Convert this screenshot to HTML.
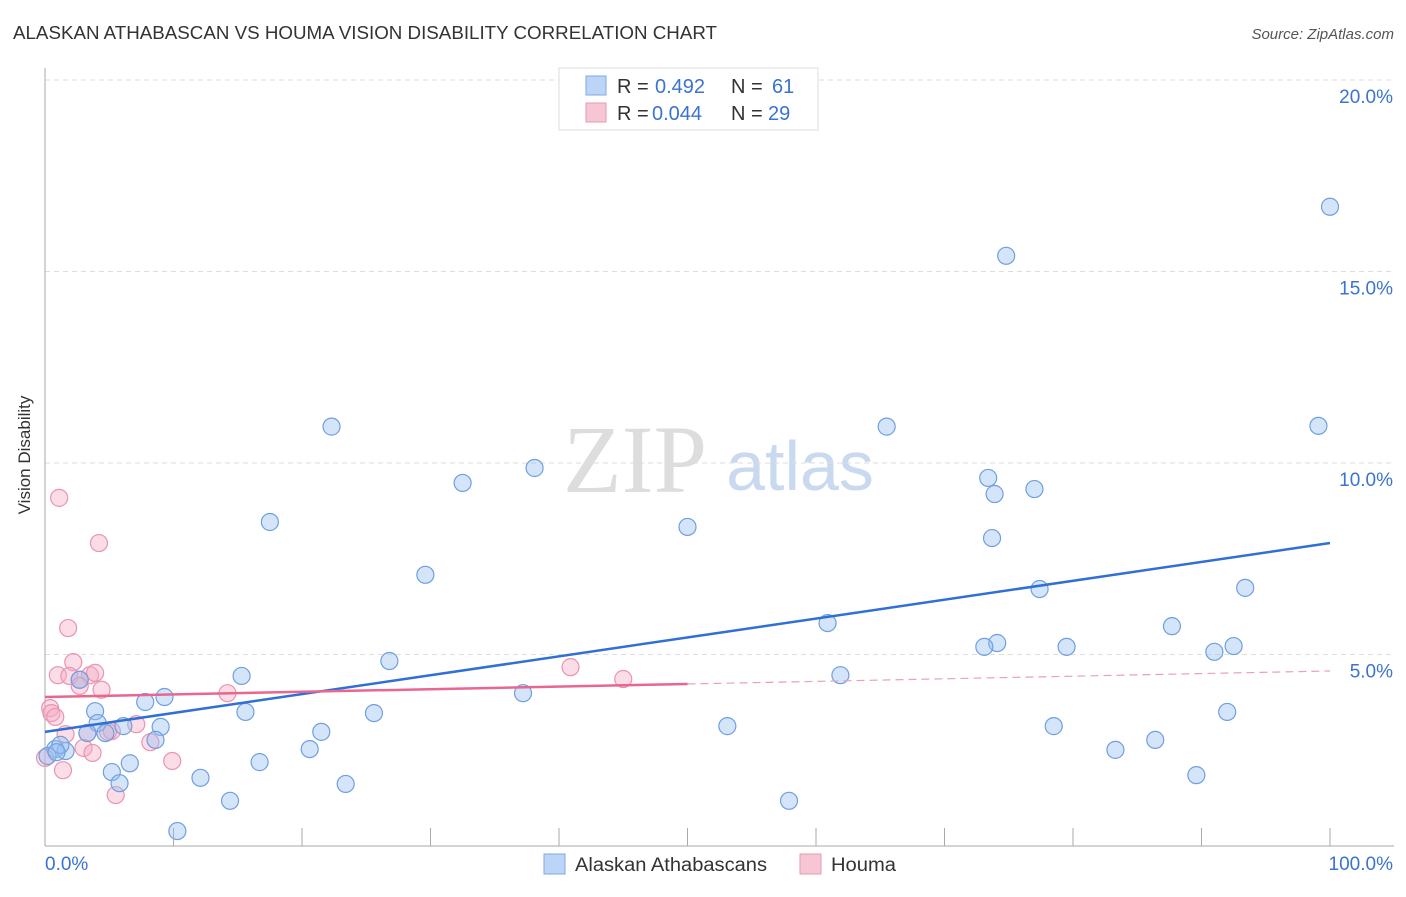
<!DOCTYPE html>
<html><head><meta charset="utf-8"><style>
body{margin:0;background:#fff;font-family:"Liberation Sans",sans-serif}
</style></head><body>
<svg id="chart" width="1406" height="892" xmlns="http://www.w3.org/2000/svg" font-family="Liberation Sans, sans-serif">
<text x="13" y="39" font-size="18" fill="#333" textLength="704" lengthAdjust="spacingAndGlyphs">ALASKAN ATHABASCAN VS HOUMA VISION DISABILITY CORRELATION CHART</text>
<text x="1394" y="39" font-size="15" fill="#555" font-style="italic" text-anchor="end">Source: ZipAtlas.com</text>
<text x="30" y="455" font-size="17" fill="#333" transform="rotate(-90 30 455)" text-anchor="middle">Vision Disability</text>
<text x="635" y="492" font-size="96" fill="#ddd" font-family="Liberation Serif, serif" text-anchor="middle">ZIP</text>
<text x="800" y="490" font-size="70" fill="#c9d9f0" text-anchor="middle">atlas</text>
<g id="grid"></g><g id="axes"></g><g id="pts"></g><g id="lines"></g>
<g>
<rect x="559" y="68" width="259" height="62" fill="#fff" stroke="#ddd"/>
<rect x="586" y="76" width="20" height="19" fill="#bcd4f5" stroke="#7fa8e6"/>
<text x="617" y="93" font-size="20" fill="#333">R = </text><text x="655" y="93" font-size="20" fill="#3a73d0">0.492</text>
<text x="731" y="93" font-size="20" fill="#333">N = </text><text x="772" y="93" font-size="20" fill="#3a73d0">61</text>
<rect x="586" y="103" width="20" height="19" fill="#f7c6d4" stroke="#e89ab2"/>
<text x="617" y="120" font-size="20" fill="#333">R = </text><text x="652" y="120" font-size="20" fill="#3a73d0">0.044</text>
<text x="731" y="120" font-size="20" fill="#333">N = </text><text x="768" y="120" font-size="20" fill="#3a73d0">29</text>
</g>
<g>
<rect x="544" y="854" width="21" height="20" fill="#bcd4f5" stroke="#7fa8e6"/>
<text x="575" y="871" font-size="19" fill="#333" textLength="192" lengthAdjust="spacingAndGlyphs">Alaskan Athabascans</text>
<rect x="800" y="854" width="21" height="20" fill="#f7c6d4" stroke="#e89ab2"/>
<text x="831" y="871" font-size="19" fill="#333" textLength="65" lengthAdjust="spacingAndGlyphs">Houma</text>
</g>
</svg>
<script>
const xTickVals=[0,10,20,30,40,50,60,70,80,90,100];
const yTickVals=[5,10,15,20];
const yTickLabels=["5.0%","10.0%","15.0%","20.0%"];
const blueX=[100,74.8,22.3,65.5,99.1,38.1,32.5,73.4,77,73.9,17.5,50,73.7,29.6,93.4,77.4,60.9,87.7,74.1,73.1,79.5,92.5,91,26.8,15.3,61.9,37.2,9.3,7.8,3.9,15.6,25.6,92,4.1,6.1,9,53.1,78.5,21.5,3.3,4.7,8.6,86.4,20.6,0.8,1.6,83.3,6.6,16.7,5.2,12.1,5.8,23.4,89.6,14.4,57.9,10.3,0.2,2.7,1.2,0.9];
const blueY=[16.69,15.41,10.95,10.95,10.97,9.87,9.48,9.61,9.32,9.19,8.46,8.33,8.04,7.08,6.74,6.71,5.82,5.74,5.3,5.2,5.2,5.22,5.07,4.83,4.44,4.46,3.99,3.89,3.76,3.52,3.5,3.47,3.5,3.21,3.13,3.11,3.13,3.13,2.98,2.95,2.95,2.77,2.77,2.53,2.53,2.48,2.51,2.16,2.19,1.93,1.78,1.64,1.62,1.85,1.18,1.18,0.39,2.35,4.34,2.64,2.45];
const pinkX=[1.1,4.2,1.8,2.2,1,1.9,3.5,3.9,2.7,2.7,4.4,14.2,40.9,45,0.4,0.5,0.8,1.6,7.1,5.2,3.3,3,3.7,8.2,9.9,1.4,5.5,0,4.9];
const pinkY=[9.09,7.91,5.69,4.8,4.46,4.44,4.46,4.52,4.34,4.18,4.08,3.99,4.67,4.36,3.6,3.47,3.37,2.92,3.18,3,2.95,2.56,2.43,2.71,2.22,1.98,1.33,2.3,2.98];
const blueTrend=[2.98,7.91];
const pinkTrend=[3.89,4.57];
const X=v=>45+v*12.85, Y=v=>846-v*38.3;
const NS="http://www.w3.org/2000/svg";
function mk(p,t,a){const e=document.createElementNS(NS,t);for(const k in a)e.setAttribute(k,a[k]);document.getElementById(p).appendChild(e);return e;}
yTickVals.forEach((v,i)=>{
 const g=mk('grid','line',{x1:45,x2:1394,y1:Y(v),y2:Y(v),stroke:'#ddd','stroke-dasharray':'5,4'});
 
 
 const t=mk('grid','text',{x:1393,y:Y(v)+23,'font-size':19,fill:'#3a73d0','text-anchor':'end'});
 t.textContent=yTickLabels[i];
 
 
});
const ax=mk('axes','line',{x1:45,x2:45,y1:68,y2:846,stroke:'#aaa'});


const bx=mk('axes','line',{x1:45,x2:1394,y1:846,y2:846,stroke:'#aaa'});


xTickVals.forEach(v=>{const t=mk('axes','line',{x1:X(v),x2:X(v),y1:828,y2:846,stroke:'#aaa'});
 
 });
[[0,'0.0%',45,'start'],[100,'100.0%',1393,'end']].forEach(a=>{const t=mk('axes','text',{x:a[2],y:870,'font-size':19,fill:'#3a73d0','text-anchor':a[3]});t.textContent=a[1];
 
 });
pinkX.forEach((v,i)=>{const c=mk('pts','circle',{cx:X(v),cy:Y(pinkY[i]),r:8.5,fill:'rgba(244,170,195,0.4)',stroke:'#eb93b0','stroke-width':1.2});
 
 });
blueX.forEach((v,i)=>{const c=mk('pts','circle',{cx:X(v),cy:Y(blueY[i]),r:8.5,fill:'rgba(150,190,240,0.4)',stroke:'#6f9fe0','stroke-width':1.2});
 
 });
const bl=mk('lines','line',{x1:X(0),y1:Y(blueTrend[0]),x2:X(100),y2:Y(blueTrend[1]),stroke:'#2f6fd6','stroke-width':2.5});


const pm=pinkTrend[0]+(pinkTrend[1]-pinkTrend[0])*0.5;
const pl=mk('lines','line',{x1:X(0),y1:Y(pinkTrend[0]),x2:X(50),y2:Y(pm),stroke:'#e9668f','stroke-width':2.5});


const pd=mk('lines','line',{x1:X(50),y1:Y(pm),x2:X(100),y2:Y(pinkTrend[1]),stroke:'#e9a0b8','stroke-width':1.2,'stroke-dasharray':'8,5'});


</script>
</body></html>
